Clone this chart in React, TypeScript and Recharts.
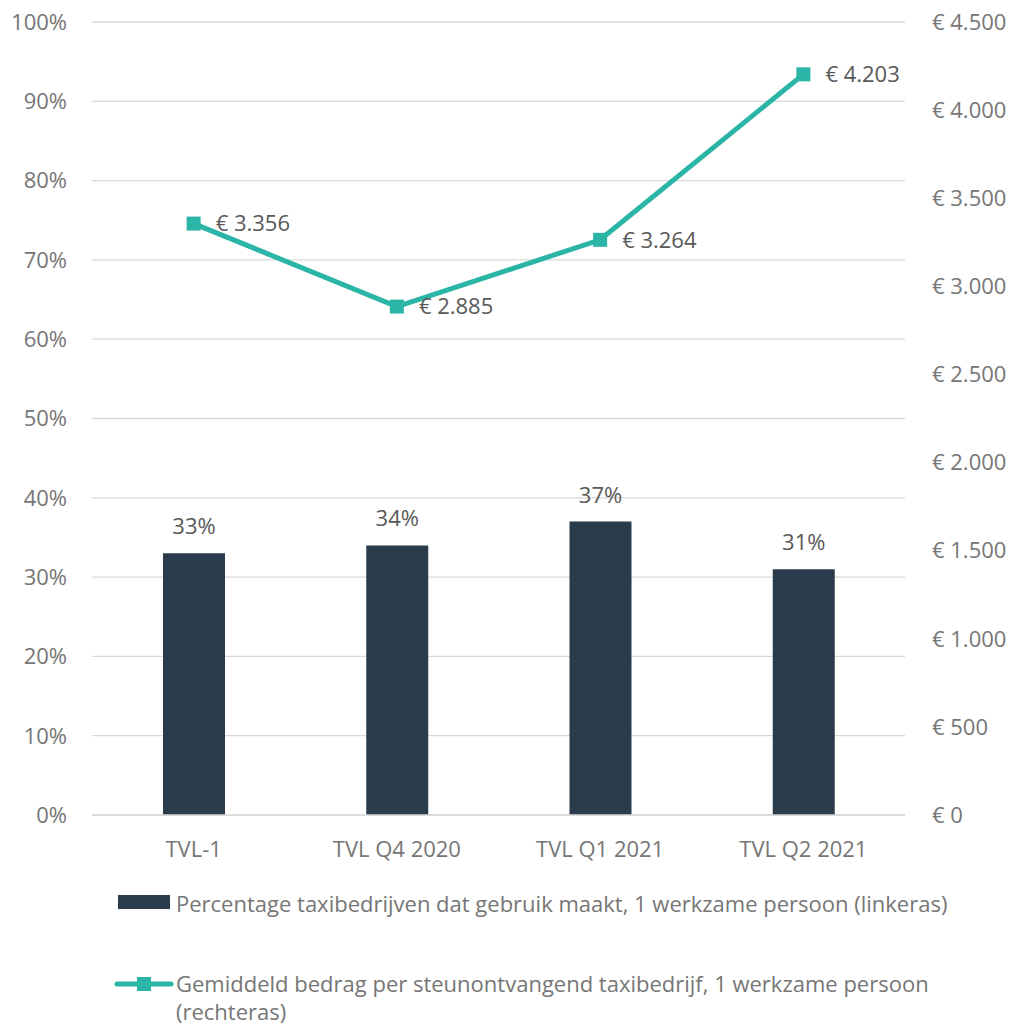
import React from "react";
import {
  ComposedChart,
  Bar,
  Line,
  XAxis,
  YAxis,
  CartesianGrid,
  LabelList,
  Legend,
} from "recharts";

const categories = ["TVL-1", "TVL Q4 2020", "TVL Q1 2021", "TVL Q2 2021"];
const percentValues = [33, 34, 37, 31];
const amountValues = [3356, 2885, 3264, 4203];
const leftTicks = [0, 10, 20, 30, 40, 50, 60, 70, 80, 90, 100];
const rightTicks = [0, 500, 1000, 1500, 2000, 2500, 3000, 3500, 4000, 4500];
const barName =
  "Percentage taxibedrijven dat gebruik maakt, 1 werkzame persoon (linkeras)";
const lineNameLine1 =
  "Gemiddeld bedrag per steunontvangend taxibedrijf, 1 werkzame persoon";
const lineNameLine2 = "(rechteras)";

const data = categories.map((c, i) => ({
  name: c,
  pct: percentValues[i],
  amount: amountValues[i],
}));

const BAR_COLOR = "#2a3c4c";
const LINE_COLOR = "#2bb5a6";
const TICK_COLOR = "#767676";
const LABEL_COLOR = "#595959";
const GRID_COLOR = "#d9d9d9";
const FONT = "'Open Sans', 'Noto Sans', sans-serif";
const FS = 22;

const euro = (v: number) => {
  const s = Math.round(v).toString().replace(/\B(?=(\d{3})+(?!\d))/g, ".");
  return "€ " + s;
};

const LegendContent = () => (
  <div
    style={{
      position: "relative",
      width: 1009,
      height: 150,
      fontFamily: FONT,
      fontSize: FS,
      color: TICK_COLOR,
      lineHeight: "30px",
    }}
  >
    <div
      style={{
        position: "absolute",
        left: 118,
        top: 17,
        width: 52,
        height: 14,
        background: BAR_COLOR,
      }}
    />
    <div style={{ position: "absolute", left: 176, top: 10, whiteSpace: "nowrap" }}>
      {barName}
    </div>
    <svg
      style={{ position: "absolute", left: 114, top: 96 }}
      width={60}
      height={20}
    >
      <line
        x1={3}
        y1={10}
        x2={57}
        y2={10}
        stroke={LINE_COLOR}
        strokeWidth={5}
        strokeLinecap="round"
      />
      <rect x={23} y={3} width={14} height={14} fill={LINE_COLOR} />
    </svg>
    <div
      style={{
        position: "absolute",
        left: 176,
        top: 91,
        whiteSpace: "nowrap",
        lineHeight: "28px",
      }}
    >
      {lineNameLine1}
      <br />
      {lineNameLine2}
    </div>
  </div>
);

const SquareDot = (props: any) => {
  const { cx, cy } = props;
  if (cx == null || cy == null) return null;
  return <rect x={cx - 7} y={cy - 7} width={14} height={14} fill={LINE_COLOR} />;
};

export default function App() {
  return (
    <div style={{ position: "absolute", left: 0, top: 0, width: 1009, height: 1028 }}>
      <ComposedChart
        width={1009}
        height={1028}
        data={data}
        margin={{ top: 22, right: 14, bottom: 0, left: 12 }}
      >
        <CartesianGrid
          yAxisId="left"
          vertical={false}
          stroke={GRID_COLOR}
          strokeWidth={1.3}
        />
        <XAxis
          dataKey="name"
          height={63}
          tickLine={false}
          axisLine={{ stroke: GRID_COLOR, strokeWidth: 1.3 }}
          tick={{ fill: TICK_COLOR, fontSize: FS, fontFamily: FONT }}
          tickMargin={20}
        />
        <YAxis
          yAxisId="left"
          orientation="left"
          width={80}
          domain={[0, 100]}
          ticks={leftTicks}
          tickFormatter={(v: number) => `${v}%`}
          tickLine={false}
          axisLine={false}
          tickMargin={19}
          tick={{ fill: TICK_COLOR, fontSize: FS, fontFamily: FONT }}
        />
        <YAxis
          yAxisId="right"
          orientation="right"
          width={90}
          domain={[0, 4500]}
          ticks={rightTicks}
          tickFormatter={euro}
          tickLine={false}
          axisLine={false}
          tickMargin={21}
          tick={{ fill: TICK_COLOR, fontSize: FS, fontFamily: FONT, textAnchor: "start" }}
        />
        <Legend
          verticalAlign="bottom"
          content={<LegendContent />}
          wrapperStyle={{ left: 0, bottom: 0, width: 1009, height: 150 }}
        />
        <Bar
          yAxisId="left"
          dataKey="pct"
          name={barName}
          fill={BAR_COLOR}
          barSize={62}
          isAnimationActive={false}
        >
          <LabelList
            dataKey="pct"
            position="top"
            offset={19}
            formatter={(v: any) => `${v}%`}
            fill={LABEL_COLOR}
            fontSize={FS}
            fontFamily={FONT}
          />
        </Bar>
        <Line
          yAxisId="right"
          dataKey="amount"
          name={lineNameLine1}
          stroke={LINE_COLOR}
          strokeWidth={5}
          dot={<SquareDot />}
          activeDot={false}
          isAnimationActive={false}
        >
          <LabelList
            dataKey="amount"
            position="right"
            offset={22}
            formatter={(v: any) => euro(Number(v))}
            fill={LABEL_COLOR}
            fontSize={FS}
            fontFamily={FONT}
          />
        </Line>
      </ComposedChart>
    </div>
  );
}
